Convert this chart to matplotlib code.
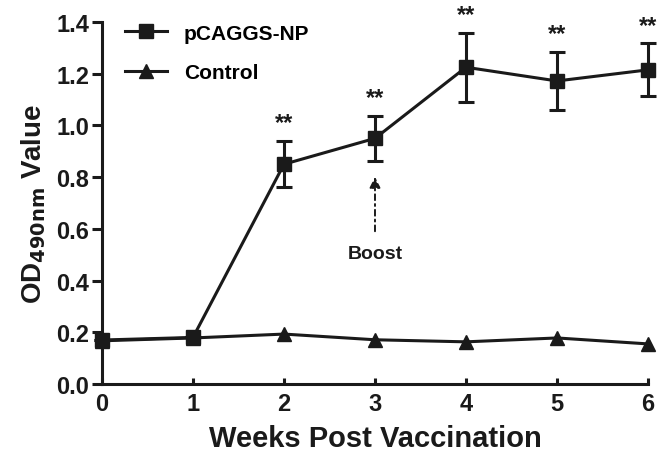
import numpy as np
import matplotlib.pyplot as plt

plt.rcParams['font.family'] = ['Liberation Sans', 'DejaVu Sans']
plt.rcParams['font.weight'] = 'bold'

# weeks after vaccination
weeks = [0, 1, 2, 3, 4, 5, 6]

# OD490 values
np_mean = [0.170, 0.180, 0.850, 0.950, 1.225, 1.172, 1.215]
np_err = [0.0, 0.0, 0.090, 0.087, 0.133, 0.113, 0.103]
ctrl_mean = [0.167, 0.178, 0.193, 0.171, 0.163, 0.178, 0.155]

star_weeks = [2, 3, 4, 5, 6]
star_text = '**'

ink = '#1a1a1a'
lw = 2.2

fig = plt.figure(figsize=(6.63, 4.64), dpi=100)
ax = fig.add_axes([0.1538, 0.1703, 0.9774 - 0.1538, 0.9504 - 0.1703])

ax.errorbar(weeks, np_mean, yerr=np_err, fmt='none', ecolor=ink,
            capsize=6, capthick=lw, elinewidth=lw, clip_on=False, zorder=3)
ax.plot(weeks, np_mean, color=ink, lw=lw, marker='s', markersize=10.5,
        label='pCAGGS-NP', clip_on=False, zorder=4)
ax.plot(weeks, ctrl_mean, color=ink, lw=lw, marker='^', markersize=10.5,
        label='Control', clip_on=False, zorder=2)

# significance stars above the error bars
for w in star_weeks:
    top = np_mean[w] + np_err[w]
    ax.text(w, top + 0.07, star_text, ha='center', va='center',
            fontsize=17, fontweight='bold', color=ink, clip_on=False)

# boost marker at week 3
ax.annotate('', xy=(3, 0.812), xytext=(3, 0.58),
            arrowprops=dict(arrowstyle='-|>', linestyle=(0, (3, 2, 1, 2)),
                            lw=1.4, color=ink, mutation_scale=16))
ax.text(3, 0.503, 'Boost', ha='center', va='center', fontsize=14,
        fontweight='bold', color=ink)

ax.set_xlim(0, 6)
ax.set_ylim(0, 1.4)
ax.set_xticks(weeks)
ax.set_yticks([0.0, 0.2, 0.4, 0.6, 0.8, 1.0, 1.2, 1.4])
ax.set_yticklabels(['0.0', '0.2', '0.4', '0.6', '0.8', '1.0', '1.2', '1.4'])

for side in ['top', 'right']:
    ax.spines[side].set_visible(False)
for side in ['left', 'bottom']:
    ax.spines[side].set_linewidth(lw)
    ax.spines[side].set_color(ink)

ax.tick_params(axis='y', direction='out', length=7, width=lw, labelsize=17,
               colors=ink, pad=2)
ax.tick_params(axis='x', direction='in', length=4, width=lw, labelsize=17,
               colors=ink, pad=6)

ax.set_xlabel('Weeks Post Vaccination', fontsize=21, fontweight='bold',
              color=ink, labelpad=6)
ax.set_ylabel(r'OD$_{\mathbf{490nm}}$ Value', fontsize=20, fontweight='bold',
              color=ink, labelpad=6)

ax.legend(loc='upper left', frameon=False, fontsize=15,
          handlelength=2.0, labelspacing=1.0, borderaxespad=0.2,
          bbox_to_anchor=(0.02, 1.03), handletextpad=0.8)

fig.savefig('out.png', dpi=100)
